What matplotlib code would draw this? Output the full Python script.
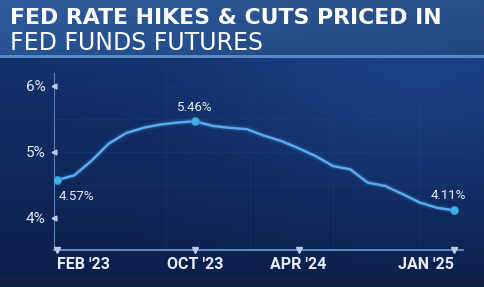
import numpy as np
import matplotlib
matplotlib.use("Agg")
import matplotlib.pyplot as plt

# ---- data ----
rates = [4.57, 4.64, 4.86, 5.12, 5.28, 5.36, 5.41, 5.44, 5.46, 5.39, 5.36, 5.34,
         5.24, 5.16, 5.05, 4.93, 4.78, 4.73, 4.53, 4.48, 4.36, 4.23, 4.15, 4.11]
x_tick_idx = [0, 8, 14, 23]
x_tick_labels = ["FEB '23", "OCT '23", "APR '24", "JAN '25"]
y_ticks = [4, 5, 6]
y_tick_labels = ["4%", "5%", "6%"]
highlight_idx = [0, 8, 23]
highlight_labels = ["4.57%", "5.46%", "4.11%"]
title1 = "FED RATE HIKES & CUTS PRICED IN"
title2 = "FED FUNDS FUTURES"

W, H = 485, 287
fig = plt.figure(figsize=(W / 100, H / 100), dpi=100)

# ---- background ----
bg = fig.add_axes([0, 0, 1, 1])
bg.set_axis_off()
yy, xx = np.mgrid[0:H, 0:W]
top = np.array([0x15, 0x36, 0x74]) / 255
bot = np.array([0x0b, 0x1e, 0x4a]) / 255
t = (yy / H)[..., None]
img = top * (1 - t) + bot * t
glow = np.exp(-(((xx - 420) / 200.0) ** 2 + ((yy - 80) / 140.0) ** 2))[..., None]
img = img + glow * np.array([0.03, 0.06, 0.10])
bar = (yy < 56)[..., None]
bar_col = np.array([0x25, 0x52, 0x93]) / 255 * (1 - (xx / W)[..., None] * 0.15) \
    + (1 - yy / 56.0)[..., None] * 0.04
img = np.where(bar, bar_col, img)
line = ((yy >= 55) & (yy <= 57))[..., None]
img = np.where(line, np.array([0x5a, 0x88, 0xc4]) / 255, img)
strip = (yy >= 275)[..., None]
img = np.where(strip, np.array([0x12, 0x22, 0x45]) / 255, img)
img = np.clip(img, 0, 1)
bg.imshow(img, extent=[0, W, H, 0], aspect="auto", interpolation="bilinear")
bg.set_xlim(0, W)
bg.set_ylim(H, 0)

fig.text(10 / W, 1 - 18 / H, title1, color="white", fontsize=15.8,
         fontweight="bold", family="DejaVu Sans", va="center", ha="left")
fig.text(10 / W, 1 - 43.5 / H, title2, color="white", fontsize=17,
         fontweight="normal", family="DejaVu Sans", va="center", ha="left")

# ---- chart ----
left_px, right_px = 54, 463
bottom_px, top_px = 250, 73
ax = fig.add_axes([left_px / W, 1 - bottom_px / H,
                   (right_px - left_px) / W, (bottom_px - top_px) / H])
ax.patch.set_alpha(0)
x = np.arange(len(rates))
ax.set_xlim(-0.17, 23.52)
ax.set_ylim(3.51, 6.19)

for gy in [4.5, 5.0, 5.5, 6.0]:
    ax.axhline(gy, color="#3a5f9a", lw=0.5, alpha=0.2, zorder=0)
for gx in [6.3, 11.2, 16.0, 21.0]:
    ax.axvline(gx, color="#3a5f9a", lw=0.5, alpha=0.2, zorder=0)

ax.plot(x, rates, color="#4fa3ea", lw=4.5, alpha=0.15, solid_capstyle="round", zorder=2)
ax.plot(x, rates, color="#5aaaf0", lw=1.8, solid_joinstyle="round", zorder=3)
hx = [x[i] for i in highlight_idx]
hy = [rates[i] for i in highlight_idx]
ax.scatter(hx, hy, s=34, color="#3fb0e0", edgecolor="#2a8fc8", lw=0.6, zorder=4)

ann = dict(textcoords="offset points", color="#e8eef8", fontsize=9.5,
           family="Roboto", va="center")
ax.annotate(highlight_labels[0], (hx[0], hy[0]), xytext=(1, -12), ha="left", **ann)
ax.annotate(highlight_labels[1], (hx[1], hy[1]), xytext=(0, 10), ha="center", **ann)
ax.annotate(highlight_labels[2], (hx[2], hy[2]), xytext=(9, 11), ha="right", **ann)

for s in ["top", "right"]:
    ax.spines[s].set_visible(False)
ax.spines["left"].set_color("#5a7fb8")
ax.spines["left"].set_linewidth(0.8)
ax.spines["bottom"].set_color("#6f9ad6")
ax.spines["bottom"].set_linewidth(1.2)

ax.set_yticks(y_ticks)
ax.set_yticklabels(y_tick_labels, family="Roboto", fontsize=11, fontweight="normal")
ax.set_xticks([x[i] for i in x_tick_idx])
ax.set_xticklabels(x_tick_labels, family="Roboto", fontsize=11.5, fontweight="bold")
ax.tick_params(axis="y", length=0, pad=6, labelcolor="#e6ecf6")
ax.tick_params(axis="x", length=0, pad=5, labelcolor="#e6ecf6")
xl = ax.get_xticklabels()
xl[0].set_ha("left")
xl[-1].set_ha("right")

ax.plot([-0.17] * len(y_ticks), y_ticks, marker="<", ls="none", ms=3.5,
        color="#b8cce8", clip_on=False, zorder=5)
ax.plot([x[i] for i in x_tick_idx], [3.51] * len(x_tick_idx), marker="v", ls="none",
        ms=4, color="#b8cce8", clip_on=False, zorder=5)

fig.savefig("out.png", dpi=100)
